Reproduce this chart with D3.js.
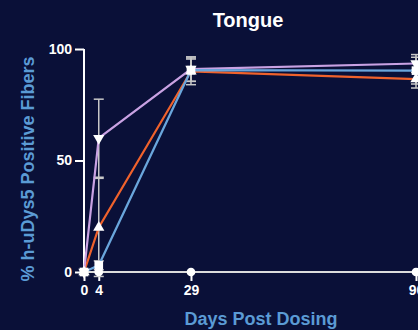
<!DOCTYPE html>
<html>
<head>
<meta charset="utf-8">
<script src="https://cdn.jsdelivr.net/npm/d3@7/dist/d3.min.js"></script>
<style>
  html, body { margin: 0; padding: 0; background: #0a1038; }
  svg { display: block; }
  text { font-family: "Liberation Sans", Arial, sans-serif; font-weight: bold; }
</style>
</head>
<body>
<svg id="chart" width="418" height="330"></svg>
<script>
// Sampling days and y-axis ticks
const days = [0, 4, 29, 90];
const yTicks = [0, 50, 100];

// Mean % positive fibers per group
const purpleVals = [0, 60, 91, 93.5];
const orangeVals = [0, 20, 90, 86.5];
const blueVals   = [0, 3, 90.5, 90.3];
const controlVals = [0, 0, 0, 0];

// Error bar half-widths per group
const purpleErr = [0, 17.5, 5.5, 4];
const orangeErr = [0, 22, 6, 4];
const blueErr   = [0, 2, 5, 6];

const svg = d3.select("#chart");
const W = 418, H = 330;

svg.append("rect").attr("width", W).attr("height", H).attr("fill", "#0a1038");

const x = d3.scaleLinear().domain([0, 90]).range([84, 416]);
const y = d3.scaleLinear().domain([0, 100]).range([272, 49]);

const white = "#ffffff";
const labelBlue = "#5b9bd5";

// Title
svg.append("text").attr("x", 248).attr("y", 27).attr("text-anchor", "middle")
  .attr("fill", white).attr("font-size", 20).text("Tongue");

// Y axis
const yAxis = svg.append("g").attr("transform", "translate(84,0)")
  .call(d3.axisLeft(y).tickValues(yTicks).tickSize(9).tickPadding(3));
yAxis.select(".domain").attr("stroke", white).attr("stroke-width", 2)
  .attr("d", `M0,${y(100)}V${y(0)}`);
yAxis.selectAll(".tick line").attr("stroke", white).attr("stroke-width", 2);
yAxis.selectAll(".tick text").attr("fill", white).attr("font-size", 14)
  .attr("font-family", "Liberation Sans, Arial, sans-serif").attr("font-weight", "bold");

// X axis
const xAxis = svg.append("g").attr("transform", `translate(0,${y(0)})`)
  .call(d3.axisBottom(x).tickValues(days).tickSize(9).tickPadding(4));
xAxis.select(".domain").attr("stroke", "#dddddd").attr("stroke-width", 2)
  .attr("d", `M${x(0)},0H${W}`);
xAxis.selectAll(".tick line").attr("stroke", white).attr("stroke-width", 2);
xAxis.selectAll(".tick text").attr("fill", white).attr("font-size", 14)
  .attr("font-family", "Liberation Sans, Arial, sans-serif").attr("font-weight", "bold");

// Axis titles
svg.append("text").attr("x", 261).attr("y", 325).attr("text-anchor", "middle")
  .attr("fill", labelBlue).attr("font-size", 18).text("Days Post Dosing");
svg.append("text").attr("transform", "translate(34,169) rotate(-90)")
  .attr("text-anchor", "middle").attr("fill", labelBlue).attr("font-size", 18)
  .text("% h-uDys5 Positive Fibers");

// Error bars
const errGroup = svg.append("g");
function drawErr(vals, errs) {
  days.forEach((d, i) => {
    if (!errs[i]) return;
    const cx = x(d), y1 = y(vals[i] + errs[i]), y0 = y(vals[i] - errs[i]);
    errGroup.append("line").attr("x1", cx).attr("x2", cx).attr("y1", y1).attr("y2", y0)
      .attr("stroke", "#c8c8c8").attr("stroke-width", 1.5);
    [y1, y0].forEach(yy => errGroup.append("line")
      .attr("x1", cx - 5).attr("x2", cx + 5).attr("y1", yy).attr("y2", yy)
      .attr("stroke", "#c8c8c8").attr("stroke-width", 1.5));
  });
}
drawErr(purpleVals, purpleErr);
drawErr(orangeVals, orangeErr);
drawErr(blueVals, blueErr);

// Lines
const line = d3.line().x((d, i) => x(days[i])).y(d => y(d));
const series = [
  { vals: controlVals, color: "#dcdcdc", sym: d3.symbolCircle, size: 60, rot: 0 },
  { vals: orangeVals, color: "#f0622c", sym: d3.symbolTriangle, size: 55, rot: 0 },
  { vals: purpleVals, color: "#c9a2e3", sym: d3.symbolTriangle, size: 55, rot: 180 },
  { vals: blueVals, color: "#6aa6dc", sym: d3.symbolSquare, size: 75, rot: 0 }
];
series.forEach(s => {
  svg.append("path").datum(s.vals).attr("d", line).attr("fill", "none")
    .attr("stroke", s.color).attr("stroke-width", 2.2);
});

// Markers
series.forEach(s => {
  svg.append("g").selectAll("path").data(s.vals).join("path")
    .attr("d", d3.symbol().type(s.sym).size(s.size))
    .attr("transform", (d, i) => `translate(${x(days[i])},${y(d)}) rotate(${s.rot})`)
    .attr("fill", white);
});
</script>
</body>
</html>
